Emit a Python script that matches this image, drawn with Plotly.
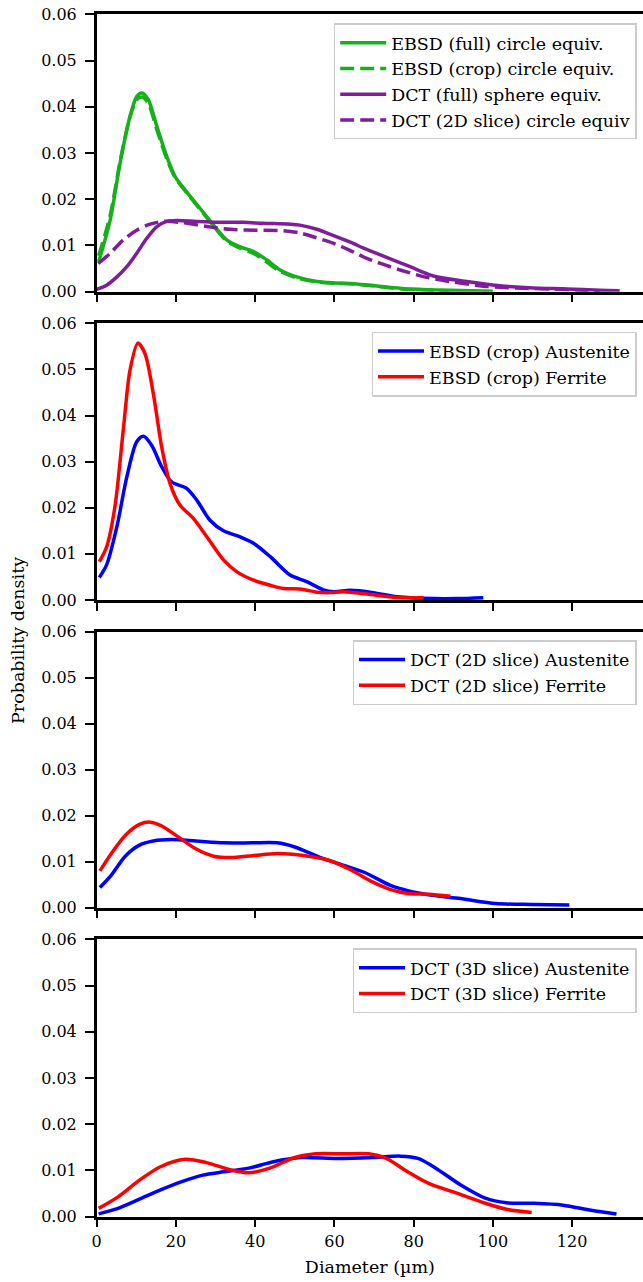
import plotly.graph_objects as go

W, H = 643, 1282

# ---------------- data ----------------
ebsd_full_x = [0.5, 3.4, 5.9, 8.4, 10.1, 11.4, 13.0, 15.2, 17.7, 19.8, 22.7, 26.1, 29.5, 32.8, 36.2, 39.6, 42.9, 46.3, 50.5, 55.6, 60, 64, 68, 72, 77, 82, 89, 95, 100]
ebsd_full_y = [0.0065, 0.0155, 0.0278, 0.0379, 0.0422, 0.0430, 0.0416, 0.0357, 0.0292, 0.0249, 0.0216, 0.0180, 0.0144, 0.0112, 0.0097, 0.0087, 0.0069, 0.0047, 0.0032, 0.0022, 0.0019, 0.0018, 0.0015, 0.0011, 0.0007, 0.0005, 0.0003, 0.0002, 0.0001]

ebsd_crop_x = [0.5, 3.4, 5.9, 8.4, 10.1, 11.4, 13.0, 15.2, 17.7, 19.8, 22.7, 26.1, 29.5, 32.8, 36.2, 39.6, 42.9, 46.3, 50.5, 55.6, 60, 64, 68, 72, 77, 82, 89]
ebsd_crop_y = [0.0078, 0.0165, 0.0282, 0.0378, 0.0415, 0.0421, 0.0408, 0.0350, 0.0287, 0.0247, 0.0214, 0.0178, 0.0142, 0.0110, 0.0094, 0.0083, 0.0064, 0.0044, 0.0030, 0.0021, 0.0018, 0.0017, 0.0014, 0.0010, 0.0006, 0.0004, 0.0002]

dct_full_x = [0, 2.5, 5.1, 7.6, 10.1, 12.6, 15.2, 17.7, 20.2, 25.3, 32, 37, 42, 48.8, 51.3, 55.6, 59, 64, 68, 72.4, 79.1, 85, 93.4, 101.8, 110.3, 118.7, 127, 132]
dct_full_y = [0.0005, 0.0014, 0.0032, 0.0054, 0.0083, 0.0115, 0.0141, 0.0152, 0.0154, 0.0152, 0.0150, 0.0150, 0.0148, 0.0146, 0.0144, 0.0135, 0.0124, 0.0107, 0.0092, 0.0077, 0.0054, 0.0034, 0.0022, 0.0013, 0.0008, 0.0006, 0.0003, 0.0002]

dct_slice_x = [0.4, 3.4, 6.7, 10.1, 13.5, 16.8, 21.9, 27.8, 33.7, 40.4, 47.1, 51.3, 55, 59.7, 64, 68.2, 72.4, 76.6, 83.3, 89.2, 97.6, 106, 114.4, 122.9, 127]
dct_slice_y = [0.0061, 0.0083, 0.0112, 0.0133, 0.0146, 0.0152, 0.0149, 0.0141, 0.0135, 0.0133, 0.0132, 0.0127, 0.0118, 0.0105, 0.0089, 0.0072, 0.0059, 0.0047, 0.0031, 0.0022, 0.0012, 0.0008, 0.0006, 0.0003, 0.0002]

ebsd_aus_x = [0.67, 2.5, 5.1, 7.6, 10.1, 11.8, 13.9, 16.4, 18.9, 22.7, 25.3, 28.6, 32, 36.2, 39.6, 43.8, 48.8, 53, 57.2, 60, 64, 69.8, 75.8, 85, 91, 97.6]
ebsd_aus_y = [0.0049, 0.0076, 0.0159, 0.0267, 0.0343, 0.0355, 0.0335, 0.0289, 0.0256, 0.0242, 0.0216, 0.0173, 0.0150, 0.0137, 0.0123, 0.0094, 0.0054, 0.0040, 0.0022, 0.0018, 0.0021, 0.0016, 0.0007, 0.0003, 0.0003, 0.0005]

ebsd_fer_x = [0.67, 2.5, 4.6, 6.7, 8.4, 10.4, 12.2, 14.3, 16.4, 18.5, 21, 24.4, 27.8, 32, 35.4, 39.6, 43.8, 47.1, 51.3, 55.6, 58.9, 62.3, 68.2, 74.9, 82.5]
ebsd_fer_y = [0.0083, 0.0115, 0.0202, 0.0368, 0.0498, 0.0557, 0.0534, 0.0447, 0.0332, 0.0253, 0.0206, 0.0177, 0.0137, 0.0087, 0.0061, 0.0043, 0.0032, 0.0025, 0.0024, 0.0017, 0.0016, 0.0018, 0.0013, 0.0006, 0.0005]

dct2d_aus_x = [0.8, 3.7, 7.2, 10.8, 14.3, 18.8, 25, 32.1, 39.3, 45.5, 50, 56.2, 62.4, 67.8, 74, 78.5, 84.7, 91.8, 100.7, 109.7, 119.3]
dct2d_aus_y = [0.0044, 0.0071, 0.0112, 0.0136, 0.0145, 0.0148, 0.0145, 0.0141, 0.0141, 0.0141, 0.0132, 0.0110, 0.0092, 0.0076, 0.0049, 0.0037, 0.0027, 0.0020, 0.0009, 0.0007, 0.0006]

dct2d_fer_x = [0.8, 3.7, 7.2, 10.8, 13.5, 16.1, 20.6, 25, 29.5, 33.9, 39.3, 45.5, 51.7, 58.9, 64.2, 69.6, 74, 78.5, 83.8, 89.3]
dct2d_fer_y = [0.0080, 0.0118, 0.0157, 0.0181, 0.0186, 0.0179, 0.0154, 0.0128, 0.0112, 0.0109, 0.0113, 0.0118, 0.0114, 0.0102, 0.0082, 0.0056, 0.0040, 0.0031, 0.0029, 0.0025]

dct3d_aus_x = [0.5, 5.4, 10.8, 16.1, 21.5, 26.8, 32.1, 38.4, 44.6, 51.7, 60.7, 69.6, 76.7, 81.1, 85.6, 91.8, 98.1, 103.4, 110.5, 117.7, 124.8, 131.2]
dct3d_aus_y = [0.0006, 0.0018, 0.0038, 0.0058, 0.0076, 0.0090, 0.0097, 0.0105, 0.0119, 0.0128, 0.0126, 0.0128, 0.0131, 0.0126, 0.0105, 0.0069, 0.0040, 0.0030, 0.0029, 0.0025, 0.0014, 0.0006]

dct3d_fer_x = [0.5, 5.4, 10.8, 16.1, 22.3, 27.7, 33.9, 38.4, 43.7, 50, 55.3, 62.4, 68.7, 73.1, 78.5, 83.8, 90.9, 98.1, 103.4, 109.8]
dct3d_fer_y = [0.0018, 0.0043, 0.0079, 0.0108, 0.0124, 0.0117, 0.0101, 0.0095, 0.0105, 0.0128, 0.0136, 0.0136, 0.0136, 0.0126, 0.0097, 0.0072, 0.0051, 0.0029, 0.0016, 0.0009]

x_ticks = [0, 20, 40, 60, 80, 100, 120]
y_ticks = [0.00, 0.01, 0.02, 0.03, 0.04, 0.05, 0.06]

GREEN = "#15b01a"
PURPLE = "#7e1e9c"
BLUE = "#0000ff"
RED = "#ff0000"
FONT = "DejaVu Serif"
FS = 16
LFS = 17.5
LW = 3.5
DASH = "14px,6px"

series = [
    # (panel, x, y, color, dash, name)
    (1, ebsd_full_x, ebsd_full_y, GREEN, "solid", "EBSD (full) circle equiv."),
    (1, ebsd_crop_x, ebsd_crop_y, GREEN, DASH, "EBSD (crop) circle equiv."),
    (1, dct_full_x, dct_full_y, PURPLE, "solid", "DCT (full) sphere equiv."),
    (1, dct_slice_x, dct_slice_y, PURPLE, DASH, "DCT (2D slice) circle equiv"),
    (2, ebsd_aus_x, ebsd_aus_y, BLUE, "solid", "EBSD (crop) Austenite"),
    (2, ebsd_fer_x, ebsd_fer_y, RED, "solid", "EBSD (crop) Ferrite"),
    (3, dct2d_aus_x, dct2d_aus_y, BLUE, "solid", "DCT (2D slice) Austenite"),
    (3, dct2d_fer_x, dct2d_fer_y, RED, "solid", "DCT (2D slice) Ferrite"),
    (4, dct3d_aus_x, dct3d_aus_y, BLUE, "solid", "DCT (3D slice) Austenite"),
    (4, dct3d_fer_x, dct3d_fer_y, RED, "solid", "DCT (3D slice) Ferrite"),
]

fig = go.Figure()
legend_names = {1: "legend", 2: "legend2", 3: "legend3", 4: "legend4"}
for p, xs, ys, col, dash, name in series:
    fig.add_trace(go.Scatter(
        x=xs, y=ys, mode="lines", name=name,
        line=dict(color=col, width=LW, dash=dash, shape="spline", smoothing=0.8),
        xaxis="x" if p == 1 else f"x{p}", yaxis="y" if p == 1 else f"y{p}",
        legend=legend_names[p], showlegend=True,
    ))

# panel pixel geometry (top, bottom)
panels = {1: (14.3, 291.7), 2: (323.3, 600.0), 3: (631.7, 907.7), 4: (939.3, 1216.7)}
left_px = 96.7
xdom = [left_px / W, 1.0]

layout = dict(
    width=W, height=H, margin=dict(l=0, r=0, t=0, b=0),
    paper_bgcolor="white", plot_bgcolor="white",
    font=dict(family=FONT, size=FS, color="black"),
    showlegend=True,
)
for p, (t, b) in panels.items():
    xa = "xaxis" if p == 1 else f"xaxis{p}"
    ya = "yaxis" if p == 1 else f"yaxis{p}"
    yref = "y" if p == 1 else f"y{p}"
    xref = "x" if p == 1 else f"x{p}"
    layout[xa] = dict(
        domain=xdom, anchor=yref, range=[0, 137.9], tickvals=x_ticks,
        showticklabels=(p == 4), ticks="outside", ticklen=8, tickwidth=2.2,
        tickcolor="black", showline=True, linewidth=2.5, linecolor="black",
        mirror=True, showgrid=False, zeroline=False, automargin=False,
        tickfont=dict(size=FS),
    )
    layout[ya] = dict(
        domain=[1 - b / H, 1 - t / H], anchor=xref, range=[0, 0.06],
        tickvals=y_ticks, tickformat=".2f", ticks="outside", ticklen=9,
        tickwidth=2.2, tickcolor="black", showline=True, linewidth=2.5,
        linecolor="black", showgrid=False, zeroline=False, automargin=False,
        tickfont=dict(size=FS), ticklabelstandoff=5,
    )

legend_boxes = {1: (636.7, 23.3), 2: (636.5, 331.7), 3: (636.5, 640.0), 4: (636.5, 948.3)}
for p, (rx, ty) in legend_boxes.items():
    layout[legend_names[p]] = dict(
        x=rx / W, y=1 - ty / H, xanchor="right", yanchor="top",
        bgcolor="rgba(255,255,255,0.8)", bordercolor="#cccccc", borderwidth=1.5,
        font=dict(family=FONT, size=LFS, color="black"), itemwidth=46,
        tracegroupgap=0,
    )

layout["xaxis4"]["title"] = dict(text="Diameter (µm)", font=dict(size=LFS), standoff=12)
layout["annotations"] = [dict(
    text="Probability density", x=18 / W, y=0.5, xref="paper", yref="paper",
    textangle=-90, showarrow=False, font=dict(family=FONT, size=LFS),
    xanchor="center", yanchor="middle",
)]

fig.update_layout(**layout)
fig.write_html("out.html")
